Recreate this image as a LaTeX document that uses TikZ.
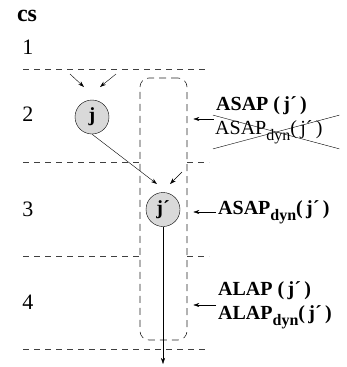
\documentclass[tikz,border=0pt]{standalone}
\usepackage{fontspec}
\setmainfont{Liberation Serif}
\usetikzlibrary{arrows.meta, positioning, calc}
\tikzstyle{op} = [circle, draw=black, fill=gray!30, minimum size=34pt, inner sep=0pt, font=\fontsize{20}{20}\selectfont\bfseries]
\tikzstyle{arrow} = [thin,->,>={Stealth[length=6pt,width=4pt]}]
\tikzstyle{border} = [line width=0.6pt, dash pattern=on 6pt off 5pt, black!75]
\tikzstyle{csnum} = [font=\fontsize{22}{22}\selectfont]
\tikzstyle{lbl} = [anchor=west, inner sep=2pt, align=left, font=\fontsize{20}{24}\selectfont\bfseries]

\newcommand{\dyn}{\raisebox{-6pt}{\fontsize{16}{16}\selectfont dyn}}
\newcommand{\jj}{(\,j´\,)}

\begin{document}
\begin{tikzpicture}[x=1pt,y=-1pt]
\useasboundingbox (0,0) rectangle (347,367);

% control steps
\node (cs) [font=\fontsize{24}{24}\selectfont\bfseries] at (27,16) {cs};
\foreach \n/\y in {1/47, 2/114, 3/209, 4/302}
  \node (step\n) [csnum] at (28,\y) {\n};

\draw [border] (23,69) -- (209,69);
\draw [border] (23,162) -- (140,162) (187,162) -- (209,162);
\draw [border] (23,256) -- (140,256) (187,256) -- (209,256);
\draw [border] (23,349) -- (209,349);

% range of j'
\node (range) [draw=black!85, line width=0.6pt, dash pattern=on 7pt off 5pt, rounded corners=9pt, minimum width=47pt, minimum height=262pt, inner sep=0pt] at (163.5,209) {};

\node (j) [op] at (92,117) {j};
\node (jp) [op] at (163,209.5) {j´};

\coordinate (jin1) at (70,74);
\coordinate (jend1) at (84,87);
\coordinate (jin2) at (116,74);
\coordinate (jend2) at (100,87);
\coordinate (jpend1) at (157,184);
\coordinate (jpin2) at (182,172);
\coordinate (jpend2) at (170,184);
\coordinate (out) at (163,364);

\draw [arrow] (jin1) -- (jend1);
\draw [arrow] (jin2) -- (jend2);
\draw [arrow] (j.south) -- (jpend1);
\draw [arrow] (jpin2) -- (jpend2);
\draw [arrow] (jp.south) -- (out);

% bounds
\node (asap) [lbl] at (214,106) {ASAP \jj};
\node (asapdyn) [lbl, font=\fontsize{20}{22}\selectfont, inner xsep=2pt, inner ysep=5pt, text width=122pt] at (213,132) {ASAP\dyn\jj};
\draw (asapdyn.north west) -- (asapdyn.south east);
\draw (asapdyn.south west) -- (asapdyn.north east);
\coordinate (asapin) at ($(asap.west)!0.5!(asapdyn.west)$);
\draw [arrow, shorten >=6pt] (asapin) -- (range.east |- asapin);

\node (dynlbl) [lbl] at (216,212) {ASAP\dyn\jj};
\draw [arrow, shorten >=6pt] (dynlbl.west) -- (range.east |- dynlbl.west);

\node (alap) [lbl] at (216,305) {ALAP \jj\\ALAP\dyn\jj};
\draw [arrow, shorten >=6pt] (alap.west) -- (range.east |- alap.west);

\end{tikzpicture}
\end{document}
